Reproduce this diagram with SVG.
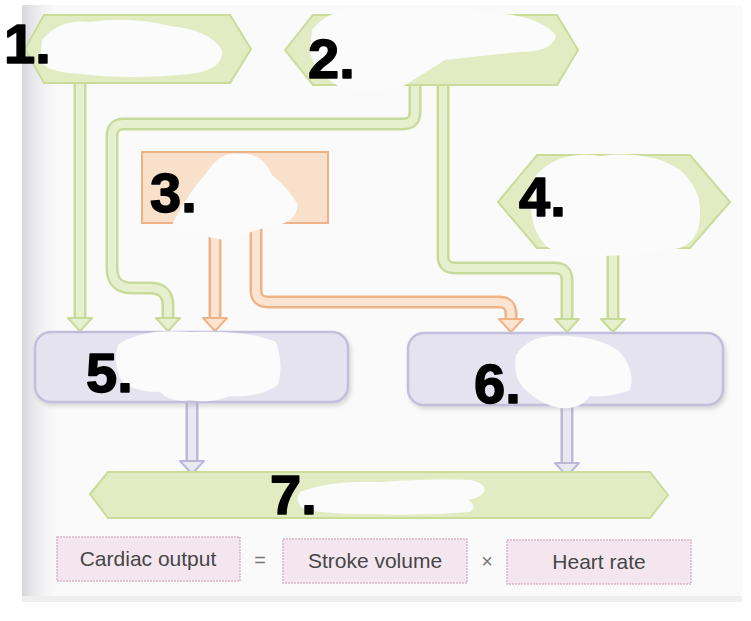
<svg xmlns="http://www.w3.org/2000/svg" xmlns:xlink="http://www.w3.org/1999/xlink" width="751" height="621" viewBox="0 0 751 621">
<style>
.hex{fill:#e2ebc2;stroke:#cadb9a;stroke-width:2}
.box3{fill:#f9e0cb;stroke:#efb186;stroke-width:2}
.rbox{fill:#e4e3ef;stroke:#c2bfdc;stroke-width:2.5}
.fbox{fill:#f4e6ef;stroke:#d9b5ca;stroke-width:1.5;stroke-dasharray:2 1}
.gO{fill:none;stroke:#c8da98;stroke-width:13}
.gI{fill:none;stroke:#e6efce;stroke-width:8}
.oO{fill:none;stroke:#f0b386;stroke-width:13}
.oI{fill:none;stroke:#fbe4d1;stroke-width:8}
.lO{fill:none;stroke:#bcb9d7;stroke-width:13}
.lI{fill:none;stroke:#e8e7f2;stroke-width:8}
.ftxt{font-family:"Liberation Sans",Arial,sans-serif;font-size:21px;fill:#464646;text-anchor:middle}
.op{font-family:"Liberation Sans",Arial,sans-serif;font-size:20px;fill:#777;text-anchor:middle}
.hand{font-family:"Liberation Sans",Arial,sans-serif;font-weight:bold;font-size:56px;fill:#000;stroke:#000;stroke-width:1.5;stroke-linejoin:round}
.blob{fill:#fbfbfb}
</style>
<defs>
<linearGradient id="edge" x1="0" y1="0" x2="1" y2="0">
<stop offset="0" stop-color="#d6d6db"/>
<stop offset="1" stop-color="#f8f8f8" stop-opacity="0"/>
</linearGradient>
<polygon id="ahG" points="-12,-13 12,-13 0,0" fill="#e6efce" stroke="#c8da98" stroke-width="2" stroke-linejoin="round"/>
<polygon id="ahO" points="-12,-13 12,-13 0,0" fill="#fbe4d1" stroke="#f0b386" stroke-width="2" stroke-linejoin="round"/>
<polygon id="ahL" points="-12,-13 12,-13 0,0" fill="#e8e7f2" stroke="#bcb9d7" stroke-width="2" stroke-linejoin="round"/>
<filter id="sh" x="-10%" y="-20%" width="120%" height="150%">
<feDropShadow dx="2" dy="3" stdDeviation="2" flood-color="#999" flood-opacity="0.35"/>
</filter>
</defs>

<rect x="0" y="0" width="751" height="621" fill="#ffffff"/>
<rect x="22" y="5" width="720" height="595" fill="#fafafa"/>
<rect x="22" y="5" width="40" height="595" fill="url(#edge)"/>
<rect x="22" y="596" width="720" height="6" fill="#eeeeee"/>

<g id="connectors">
<path class="gO" d="M80,83 V318"/>
<path class="gI" d="M80,83 V318"/>
<path class="gO" d="M415,85 V112 Q415,124 403,124 H124 Q112,124 112,136 V268 Q112,288 132,288 H150 Q168,288 168,306 V318"/>
<path class="gI" d="M415,85 V112 Q415,124 403,124 H124 Q112,124 112,136 V268 Q112,288 132,288 H150 Q168,288 168,306 V318"/>
<path class="gO" d="M443,85 V256 Q443,268 455,268 H555 Q567,268 567,280 V318"/>
<path class="gI" d="M443,85 V256 Q443,268 455,268 H555 Q567,268 567,280 V318"/>
<path class="gO" d="M613,248 V318"/>
<path class="gI" d="M613,248 V318"/>
<path class="oO" d="M215,223 V318"/>
<path class="oI" d="M215,223 V318"/>
<path class="oO" d="M256,223 V290 Q256,302 268,302 H499 Q511,302 511,314 V318"/>
<path class="oI" d="M256,223 V290 Q256,302 268,302 H499 Q511,302 511,314 V318"/>
<path class="lO" d="M192,402 V461"/>
<path class="lI" d="M192,402 V461"/>
<path class="lO" d="M567,405 V463"/>
<path class="lI" d="M567,405 V463"/>
<use href="#ahG" x="80" y="331"/>
<use href="#ahG" x="168" y="331"/>
<use href="#ahO" x="215" y="331"/>
<use href="#ahO" x="511" y="332"/>
<use href="#ahG" x="567" y="332"/>
<use href="#ahG" x="613" y="332"/>
<use href="#ahL" x="192" y="474"/>
<use href="#ahL" x="567" y="476"/>
</g>

<g id="node1">
<polygon class="hex" points="25,49 44,15 230,15 251,49 230,83 44,83"/>
<path class="blob" d="M42,40 Q60,18 90,22 Q130,16 170,26 Q210,30 222,50 Q224,70 190,74 Q130,80 80,74 Q45,72 40,60 Z"/>
<text class="hand" x="4" y="63">1.</text>
</g>

<g id="node2">
<polygon class="hex" points="285,50 313,15 557,15 578,50 557,85 313,85"/>
<path class="blob" d="M312,30 Q330,6 370,10 Q430,4 480,12 Q540,14 556,36 Q552,52 520,52 Q480,56 445,60 Q420,76 400,88 Q360,96 338,86 Q312,70 310,50 Z"/>
<text class="hand" x="308" y="78">2.</text>
</g>

<g id="node3">
<rect class="box3" x="142" y="152" width="186" height="71"/>
<path class="blob" d="M172,225 Q190,190 205,175 Q220,150 240,154 Q262,152 272,175 Q290,190 298,205 Q296,222 275,226 Q250,230 232,240 Q210,240 200,232 Q178,236 172,225 Z"/>
<text class="hand" x="150" y="212">3.</text>
</g>

<g id="node4">
<polygon class="hex" points="498,202 537,155 690,155 730,202 690,248 537,248"/>
<path class="blob" d="M536,175 Q560,150 600,156 Q650,150 680,170 Q702,190 700,215 Q700,240 680,248 Q640,256 600,256 Q560,258 545,245 Q528,225 532,200 Z"/>
<text class="hand" x="519" y="216">4.</text>
</g>

<g id="node5">
<rect class="rbox" x="35" y="332" width="313" height="70" rx="16" filter="url(#sh)"/>
<path class="blob" d="M118,345 Q140,328 190,332 Q250,330 276,342 Q284,365 278,385 Q260,398 230,396 Q210,404 190,400 Q170,403 160,392 Q130,392 120,378 Q113,360 118,345 Z"/>
<text class="hand" x="86" y="392">5.</text>
</g>

<g id="node6">
<rect class="rbox" x="408" y="333" width="315" height="72" rx="16" filter="url(#sh)"/>
<path class="blob" d="M516,355 Q530,334 560,336 Q600,336 620,352 Q636,372 630,390 Q610,398 590,396 Q580,410 560,408 Q540,404 528,392 Q512,380 516,355 Z"/>
<text class="hand" x="474" y="403">6.</text>
</g>

<g id="node7">
<polygon class="hex" points="90,494 108,472 650,472 668,495 650,518 108,518"/>
<path class="blob" d="M300,492 Q330,480 380,482 Q440,478 470,480 Q488,484 484,492 Q480,498 468,500 Q478,506 470,512 Q420,516 370,514 Q320,514 302,508 Q294,500 300,492 Z"/>
<text class="hand" x="270" y="514">7.</text>
</g>

<g id="formula">
<rect class="fbox" x="57" y="537" width="183" height="44"/>
<text class="ftxt" x="148" y="566">Cardiac output</text>
<text class="op" x="260" y="567">=</text>
<rect class="fbox" x="283" y="539" width="184" height="44"/>
<text class="ftxt" x="375" y="568">Stroke volume</text>
<text class="op" x="487" y="568">×</text>
<rect class="fbox" x="507" y="540" width="184" height="44"/>
<text class="ftxt" x="599" y="569">Heart rate</text>
</g>
</svg>
